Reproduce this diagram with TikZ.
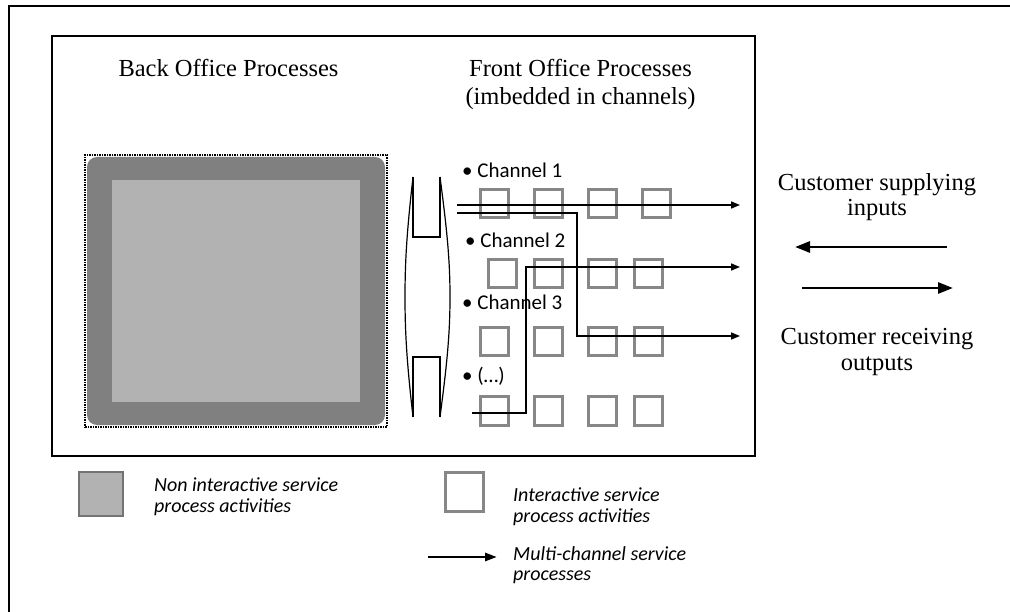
\documentclass[tikz,border=0pt]{standalone}
\usepackage{fontspec}
\setmainfont{Liberation Serif}
\newfontfamily\calibrifont{Carlito}
\usetikzlibrary{arrows.meta}
\definecolor{darkband}{RGB}{128,128,128}
\definecolor{lightband}{RGB}{178,178,178}
\definecolor{boxgray}{RGB}{135,135,135}
\newcommand\ctwo[2]{\vtop{\halign{\hfil##\hfil\cr#1\cr#2\cr}}}
\newcommand\ltwo[2]{\vtop{\halign{##\hfil\cr#1\cr#2\cr}}}
\begin{document}
\begin{tikzpicture}[x=1pt,y=-1pt,
  serif/.style={font=\fontsize{24.5}{25}\selectfont, inner sep=0, anchor=base},
  chan/.style={font=\calibrifont\fontsize{21}{24}\selectfont, inner sep=0, anchor=base west},
  legtext/.style={font=\calibrifont\itshape\fontsize{20}{21}\selectfont, inner sep=0, anchor=base west},
  ibox/.style={draw=boxgray, line width=3pt, minimum width=28pt, minimum height=28pt, inner sep=0},
  flow/.style={line width=1.6pt, -{Triangle[length=9pt,width=7pt]}},
  bigflow/.style={line width=2.7pt, -{Triangle[length=15pt,width=11pt]}}]
\useasboundingbox (0,0) rectangle (1010,612);

% outer and inner frames
\draw[line width=2.5pt] (9,613) -- (9,6) -- (1011,6);
\node[draw, line width=2pt, minimum width=703pt, minimum height=420pt, inner sep=0] (frame) at (403.5,246) {};

% headings
\node[serif] (backt) at (228.5,77) {Back Office Processes};
\node[serif, font=\fontsize{24.5}{28}\selectfont] (frontt) at (580.5,77) {\ctwo{Front Office Processes}{(imbedded in channels)}};

% back office block
\fill[darkband, rounded corners=10pt] (87,157) rectangle (385,425);
\fill[lightband] (112,180) rectangle (360,402);
\node[draw, dash pattern=on 1.5pt off 1pt, line width=1.3pt, minimum width=302pt, minimum height=272pt, inner sep=0] (back) at (236,291) {};

% lens / interface
\draw[line width=1.2pt] (413,177) -- (413,237) -- (440,237) -- (440,177);
\draw[line width=1.2pt] (413,417) -- (413,357) -- (440,357) -- (440,417);
\draw[line width=1.2pt] (413,177) .. controls (407,230) and (405,260) .. (405,297) .. controls (405,334) and (407,364) .. (413,417);
\draw[line width=1.2pt] (440,177) .. controls (447,230) and (450,260) .. (450,297) .. controls (450,334) and (447,364) .. (440,417);

% channel labels
\node[chan] (ch1) at (462,178) {• Channel 1};
\node[chan] (ch2) at (465,248) {• Channel 2};
\node[chan] (ch3) at (462,310) {• Channel 3};
\node[chan] (ch4) at (462,383) {• (…)};

% interactive boxes
\node[ibox] (r1c1) at (494.5,203.5) {};
\node[ibox] (r1c2) at (548.5,203.5) {};
\node[ibox] (r1c3) at (602.5,203.5) {};
\node[ibox] (r1c4) at (656.5,203.5) {};
\node[ibox] (r2c1) at (502.5,274) {};
\node[ibox] (r2c2) at (548.5,274) {};
\node[ibox] (r2c3) at (602.5,274) {};
\node[ibox] (r2c4) at (648.5,274) {};
\node[ibox] (r3c1) at (494.5,342) {};
\node[ibox] (r3c2) at (548.5,342) {};
\node[ibox] (r3c3) at (602.5,342) {};
\node[ibox] (r3c4) at (648.5,342) {};
\node[ibox] (r4c1) at (494.5,411) {};
\node[ibox] (r4c2) at (548.5,411) {};
\node[ibox] (r4c3) at (602.5,411) {};
\node[ibox] (r4c4) at (648.5,411) {};

% multichannel flows
\coordinate (a1s) at (457,205);
\coordinate (a1e) at (740,205);
\coordinate (a2s) at (457,213);
\coordinate (a2b) at (577,213);
\coordinate (a2e) at (740,336);
\coordinate (a3s) at (472,413);
\coordinate (a3b) at (526,413);
\coordinate (a3e) at (740,267);
\draw[flow] (a1s) -- (a1e);
\draw[flow] (a2s) -- (a2b) |- (a2e);
\draw[flow] (a3s) -- (a3b) |- (a3e);

% customer side
\node[serif] (supt) at (877,191) {\ctwo{Customer supplying}{inputs}};
\node[serif] (rect) at (877,345) {\ctwo{Customer receiving}{outputs}};
\coordinate (ins) at (947,247);
\coordinate (ine) at (795,247);
\coordinate (outs) at (802,288);
\coordinate (oute) at (953,288);
\draw[bigflow] (ins) -- (ine);
\draw[bigflow] (outs) -- (oute);

% legend
\node[draw=black!55, fill=lightband, line width=2pt, minimum width=44pt, minimum height=44pt, inner sep=0] (leg1) at (100.5,493.7) {};
\node[legtext] (leg1t) at (154,491.7) {\ltwo{Non interactive service}{process activities}};
\node[draw=boxgray, fill=white, line width=3pt, minimum width=38pt, minimum height=39pt, inner sep=0] (leg2) at (464.5,492) {};
\node[legtext, font=\calibrifont\itshape\fontsize{20}{20.5}\selectfont] (leg2t) at (513,501.5) {\ltwo{Interactive service}{process activities}};
\coordinate (legas) at (428,557);
\coordinate (legae) at (497,557);
\draw[line width=2.7pt, -{Triangle[length=12pt,width=8pt]}] (legas) -- (legae);
\node[legtext, font=\calibrifont\itshape\fontsize{20}{20.5}\selectfont] (leg3t) at (513,560) {\ltwo{Multi-channel service}{processes}};
\end{tikzpicture}
\end{document}
